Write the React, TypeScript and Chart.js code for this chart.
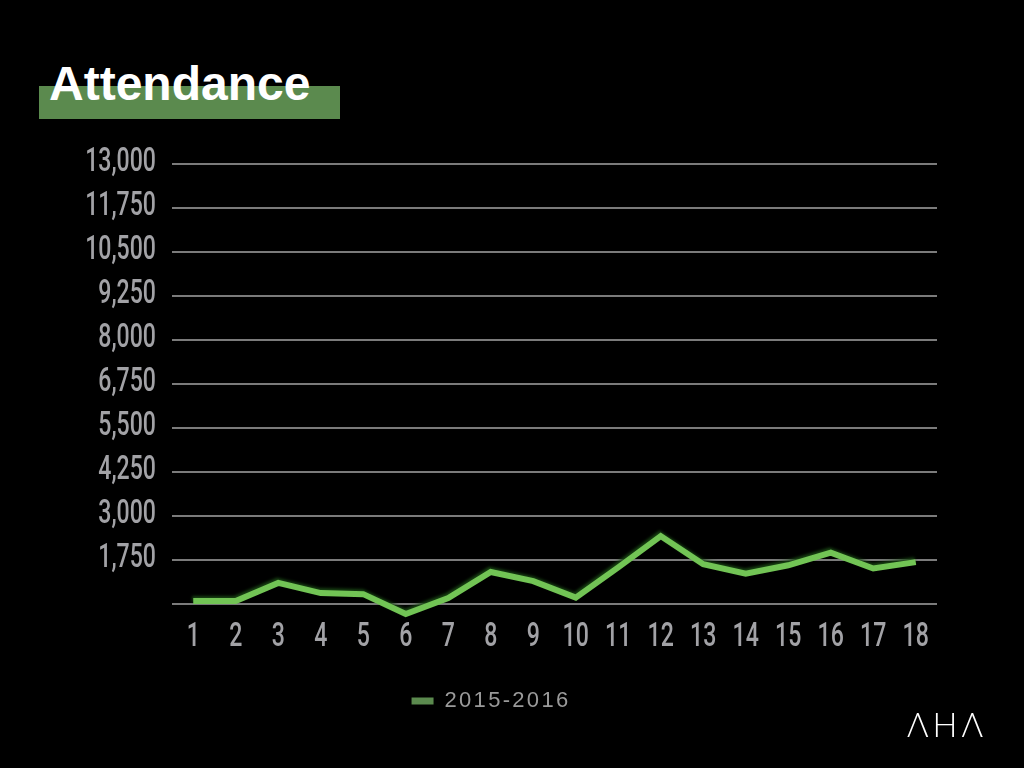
import React, { useEffect, useRef } from "react";
import { Chart, registerables } from "chart.js";

Chart.register(...registerables);

const weeks = ["1","2","3","4","5","6","7","8","9","10","11","12","13","14","15","16","17","18"];
const attendance = [585, 585, 1100, 810, 780, 215, 670, 1410, 1150, 680, 1540, 2430, 1630, 1360, 1600, 1960, 1510, 1690];
const seriesLabel = "2015-2016";
const yMin = 500;
const yMax = 13000;
const yStep = 1250;

const tickFont = "Roboto, 'Liberation Sans', Arial, sans-serif";
const tickColor = "#a2a2a6";

const shadowPlugin = {
  id: "lineShadow",
  beforeUpdate(chart: any) {
    (chart.ctx as any).letterSpacing = "2.3px";
  },
  beforeDatasetDraw(chart: any) {
    const ctx = chart.ctx;
    ctx.save();
    ctx.shadowColor = "rgba(25,70,20,0.95)";
    ctx.shadowBlur = 3;
    ctx.shadowOffsetX = -1;
    ctx.shadowOffsetY = -2;
  },
  afterDatasetDraw(chart: any) {
    chart.ctx.restore();
  },
};

// Draws the scale tick labels in a condensed style, at the positions given by the scales
const condensedTicksPlugin = {
  id: "condensedTicks",
  afterDraw(chart: any) {
    const ctx = chart.ctx;
    const xs = chart.scales.x;
    const ys = chart.scales.y;
    const area = chart.chartArea;
    ctx.save();
    ctx.letterSpacing = "0px";
    ctx.fillStyle = tickColor;
    ctx.font = `500 33px ${tickFont}`;
    ctx.textBaseline = "alphabetic";
    ys.ticks.forEach((t: any) => {
      if (t.value === yMin) return;
      const py = ys.getPixelForValue(t.value);
      ctx.save();
      ctx.translate(area.left - 16, py + 6.5);
      ctx.scale(0.7, 1);
      ctx.textAlign = "right";
      ctx.fillText(Number(t.value).toLocaleString("en-US"), 0, 0);
      ctx.restore();
    });
    xs.ticks.forEach((t: any, i: number) => {
      const px = xs.getPixelForTick(i);
      ctx.save();
      ctx.translate(px, area.bottom + 42);
      ctx.scale(0.7, 1);
      ctx.textAlign = "center";
      ctx.fillText(String(weeks[i]), 0, 0);
      ctx.restore();
    });
    ctx.restore();
  },
};

export default function App() {
  const ref = useRef<HTMLCanvasElement | null>(null);

  useEffect(() => {
    document.body.style.margin = "0";
    document.body.style.background = "#000";
    if (!ref.current) return;
    const chart = new Chart(ref.current, {
      type: "line",
      data: {
        labels: weeks,
        datasets: [
          {
            label: seriesLabel,
            data: attendance,
            borderColor: "#72c455",
            backgroundColor: "#5b8a4e",
            borderWidth: 6,
            pointRadius: 0,
            tension: 0,
            clip: false as any,
          },
        ],
      },
      options: {
        animation: false,
        responsive: false,
        maintainAspectRatio: false,
        layout: { padding: { left: 45, right: 87, top: 164, bottom: 46 } },
        plugins: {
          tooltip: { enabled: false },
          legend: {
            position: "bottom",
            labels: {
              boxWidth: 22,
              boxHeight: 7,
              padding: 10,
              color: "#9a9a9a",
              font: { family: "'Liberation Sans', Arial, sans-serif", size: 22 },
              generateLabels: () => [
                {
                  text: seriesLabel,
                  fillStyle: "#5b8a4e",
                  strokeStyle: "#5b8a4e",
                  lineWidth: 0,
                  fontColor: "#9a9a9a",
                  hidden: false,
                  datasetIndex: 0,
                } as any,
              ],
            },
          },
        },
        scales: {
          x: {
            offset: true,
            grid: { display: false },
            border: { display: false },
            ticks: { display: false, autoSkip: false },
            afterFit: (s: any) => {
              s.height = 76;
            },
          },
          y: {
            min: yMin,
            max: yMax,
            grid: { color: "#7b7b7b", lineWidth: 2, drawTicks: false },
            border: { display: false },
            ticks: { stepSize: yStep, display: false },
            afterFit: (s: any) => {
              s.width = 127;
            },
          },
        },
      },
      plugins: [shadowPlugin, condensedTicksPlugin],
    });
    return () => chart.destroy();
  }, []);

  return (
    <div style={{ position: "fixed", left: 0, top: 0, width: 1024, height: 768, background: "#000", overflow: "hidden" }}>
      <div style={{ position: "absolute", left: 39, top: 86, width: 301, height: 33, background: "#5b8a4e" }} />
      <div
        style={{
          position: "absolute",
          left: 49,
          top: 59,
          fontFamily: "'Liberation Sans', Arial, sans-serif",
          fontWeight: 700,
          fontSize: 48,
          lineHeight: "49px",
          color: "#fff",
        }}
      >
        Attendance
      </div>
      <canvas ref={ref} width={1024} height={768} style={{ position: "absolute", left: 0, top: 0 }} />
      <div
        style={{
          position: "absolute",
          left: 907,
          top: 704,
          fontFamily: "Lato, 'Noto Sans', sans-serif",
          fontWeight: 300,
          fontSize: 33,
          letterSpacing: 4,
          color: "#fff",
        }}
      >
        ΛHΛ
      </div>
    </div>
  );
}
